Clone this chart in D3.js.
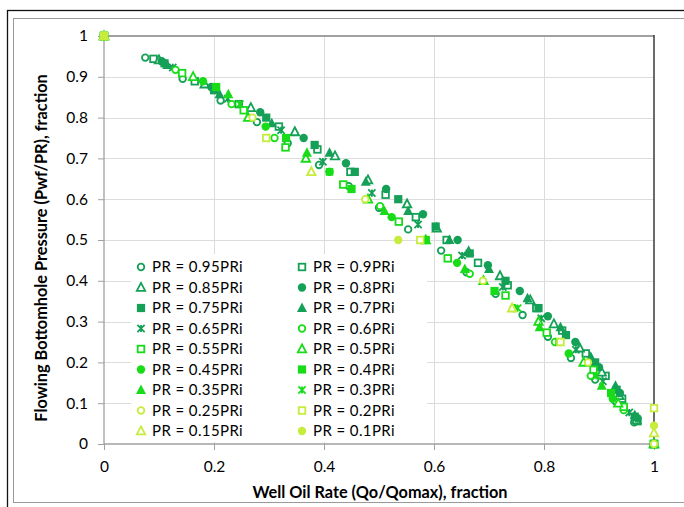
<!DOCTYPE html>
<html>
<head>
<meta charset="utf-8">
<script src="https://cdn.jsdelivr.net/npm/d3@7/dist/d3.min.js"></script>
<style>
  html, body { margin: 0; padding: 0; background: #fff; }
  svg { display: block; font-family: Lato, "Open Sans", sans-serif; }
</style>
</head>
<body>
<svg id="chart" width="684" height="507"></svg>
<script>
// Reservoir pressure levels (fraction of initial pressure PRi)
const prLevels = [0.95, 0.9, 0.85, 0.8, 0.75, 0.7, 0.65, 0.6, 0.55, 0.5,
                  0.45, 0.4, 0.35, 0.3, 0.25, 0.2, 0.15, 0.1];

const seriesNames = ["PR = 0.95PRi", "PR = 0.9PRi", "PR = 0.85PRi", "PR = 0.8PRi",
  "PR = 0.75PRi", "PR = 0.7PRi", "PR = 0.65PRi", "PR = 0.6PRi", "PR = 0.55PRi",
  "PR = 0.5PRi", "PR = 0.45PRi", "PR = 0.4PRi", "PR = 0.35PRi", "PR = 0.3PRi",
  "PR = 0.25PRi", "PR = 0.2PRi", "PR = 0.15PRi", "PR = 0.1PRi"];

// Flowing bottomhole pressure ratio Pwf/PR, one list per series
const pwfRatio = [
  [1, 0.947, 0.895, 0.842, 0.789, 0.737, 0.684, 0.632, 0.579, 0.526, 0.474, 0.421, 0.368, 0.316, 0.263, 0.211, 0.158, 0.105, 0.053, 0],
  [1, 0.944, 0.889, 0.833, 0.778, 0.722, 0.667, 0.611, 0.556, 0.5, 0.444, 0.389, 0.333, 0.278, 0.222, 0.167, 0.111, 0.056, 0],
  [1, 0.941, 0.882, 0.824, 0.765, 0.706, 0.647, 0.588, 0.529, 0.471, 0.412, 0.353, 0.294, 0.235, 0.176, 0.118, 0.059, 0],
  [1, 0.938, 0.875, 0.813, 0.75, 0.688, 0.625, 0.563, 0.5, 0.438, 0.375, 0.313, 0.25, 0.188, 0.125, 0.063, 0],
  [1, 0.933, 0.867, 0.8, 0.733, 0.667, 0.6, 0.533, 0.467, 0.4, 0.333, 0.267, 0.2, 0.133, 0.067, 0],
  [1, 0.929, 0.857, 0.786, 0.714, 0.643, 0.571, 0.5, 0.429, 0.357, 0.286, 0.214, 0.143, 0.071, 0],
  [1, 0.923, 0.846, 0.769, 0.692, 0.615, 0.538, 0.462, 0.385, 0.308, 0.231, 0.154, 0.077, 0],
  [1, 0.917, 0.833, 0.75, 0.667, 0.583, 0.5, 0.417, 0.333, 0.25, 0.167, 0.083, 0],
  [1, 0.909, 0.818, 0.727, 0.636, 0.545, 0.455, 0.364, 0.273, 0.182, 0.091, 0],
  [1, 0.9, 0.8, 0.7, 0.6, 0.5, 0.4, 0.3, 0.2, 0.1, 0],
  [1, 0.889, 0.778, 0.667, 0.556, 0.444, 0.333, 0.222, 0.111, 0],
  [1, 0.875, 0.75, 0.625, 0.5, 0.375, 0.25, 0.125, 0],
  [1, 0.857, 0.714, 0.571, 0.429, 0.286, 0.143, 0],
  [1, 0.833, 0.667, 0.5, 0.333, 0.167, 0],
  [1, 0.8, 0.6, 0.4, 0.2, 0],
  [1, 0.75, 0.5, 0.25, 0.088],
  [1, 0.667, 0.333, 0.027],
  [1, 0.5, 0.045]
];

// Well oil rate Qo/Qomax matching each pressure ratio above
const oilRate = [
  [0, 0.075, 0.143, 0.212, 0.278, 0.334, 0.391, 0.445, 0.500, 0.553, 0.613, 0.659, 0.712, 0.761, 0.807, 0.849, 0.893, 0.930, 0.964, 1],
  [0, 0.090, 0.165, 0.245, 0.318, 0.388, 0.448, 0.512, 0.567, 0.623, 0.680, 0.734, 0.786, 0.833, 0.876, 0.912, 0.942, 0.970, 1],
  [0, 0.100, 0.183, 0.267, 0.347, 0.420, 0.480, 0.551, 0.605, 0.663, 0.720, 0.775, 0.818, 0.865, 0.905, 0.937, 0.968, 1],
  [0, 0.105, 0.195, 0.284, 0.363, 0.440, 0.513, 0.580, 0.643, 0.698, 0.756, 0.807, 0.857, 0.900, 0.938, 0.970, 1],
  [0, 0.110, 0.200, 0.295, 0.383, 0.456, 0.535, 0.603, 0.665, 0.730, 0.790, 0.840, 0.893, 0.932, 0.965, 1],
  [0, 0.115, 0.210, 0.305, 0.410, 0.476, 0.553, 0.628, 0.700, 0.770, 0.830, 0.885, 0.930, 0.965, 1],
  [0, 0.125, 0.225, 0.322, 0.398, 0.487, 0.571, 0.651, 0.725, 0.795, 0.858, 0.907, 0.955, 1],
  [0, 0.130, 0.232, 0.310, 0.410, 0.502, 0.585, 0.665, 0.745, 0.820, 0.885, 0.945, 1],
  [0, 0.142, 0.254, 0.330, 0.435, 0.536, 0.625, 0.730, 0.805, 0.890, 0.945, 1],
  [0, 0.162, 0.262, 0.367, 0.480, 0.585, 0.690, 0.790, 0.872, 0.935, 1],
  [0, 0.180, 0.294, 0.410, 0.523, 0.642, 0.745, 0.845, 0.925, 1],
  [0, 0.204, 0.331, 0.450, 0.585, 0.710, 0.828, 0.922, 1],
  [0, 0.226, 0.369, 0.510, 0.656, 0.792, 0.905, 1],
  [0, 0.247, 0.410, 0.580, 0.752, 0.895, 1],
  [0, 0.270, 0.475, 0.689, 0.880, 1],
  [0, 0.295, 0.575, 0.830, 1],
  [0, 0.377, 0.742, 1],
  [0, 0.535, 1]
];

const xTickValues = [0, 0.2, 0.4, 0.6, 0.8, 1];
const xTickLabels = ["0", "0.2", "0.4", "0.6", "0.8", "1"];
const yTickValues = [0, 0.1, 0.2, 0.3, 0.4, 0.5, 0.6, 0.7, 0.8, 0.9, 1];
const yTickLabels = ["0", "0.1", "0.2", "0.3", "0.4", "0.5", "0.6", "0.7", "0.8", "0.9", "1"];

const xTitle = "Well Oil Rate (Qo/Qomax), fraction";
const yTitle = "Flowing Bottomhole Pressure (Pwf/PR), fraction";

// Marker styles cycle through seven shapes; colour steps by pressure group
const shapeCycle = ["circleOpen", "squareOpen", "triangleOpen", "circle", "square", "triangle", "star"];
const darkGreen = "#14a056", brightGreen = "#18dc18", lime = "#c6ec3c";
function seriesColor(i) { return i < 7 ? darkGreen : (i < 14 ? brightGreen : lime); }

const svg = d3.select("#chart");
const x = d3.scaleLinear().domain([0, 1]).range([104, 654]);
const y = d3.scaleLinear().domain([0, 1]).range([444, 36]);

// Outer frames
svg.append("rect").attr("x", 7.5).attr("y", 10.5).attr("width", 700).attr("height", 520)
  .attr("fill", "none").attr("stroke", "#111").attr("stroke-width", 1.3);
svg.append("rect").attr("x", 13.5).attr("y", 18.5).attr("width", 700).attr("height", 484)
  .attr("fill", "none").attr("stroke", "#9a9a9a").attr("stroke-width", 1);

// Gridlines
const grid = svg.append("g").attr("stroke", "#dcdcdc").attr("stroke-width", 1);
grid.selectAll("line.v").data(xTickValues.slice(1, -1)).join("line")
  .attr("x1", d => Math.round(x(d)) + 0.5).attr("x2", d => Math.round(x(d)) + 0.5)
  .attr("y1", y(1)).attr("y2", y(0));
grid.selectAll("line.h").data(yTickValues.slice(1, -1)).join("line")
  .attr("x1", x(0)).attr("x2", x(1))
  .attr("y1", d => Math.round(y(d)) + 0.5).attr("y2", d => Math.round(y(d)) + 0.5);

// Plot frame: top and right edges
svg.append("line").attr("x1", x(0)).attr("x2", x(1)).attr("y1", y(1)).attr("y2", y(1))
  .attr("stroke", "#a0a0a0").attr("stroke-width", 2);
svg.append("line").attr("x1", x(1)).attr("x2", x(1)).attr("y1", y(1) - 1).attr("y2", y(0))
  .attr("stroke", "#3a3a3a").attr("stroke-width", 1.5);

// Axes
const yAxis = d3.axisLeft(y).tickValues(yTickValues)
  .tickFormat((d, i) => yTickLabels[i]).tickSize(6).tickPadding(10);
const xAxis = d3.axisBottom(x).tickValues(xTickValues)
  .tickFormat((d, i) => xTickLabels[i]).tickSize(6).tickPadding(11);

function styleAxis(g) {
  g.select(".domain").attr("stroke", "#a0a0a0").attr("stroke-width", 1.3);
  g.selectAll(".tick line").attr("stroke", "#a0a0a0");
  g.selectAll(".tick text").attr("fill", "#000").style("font-size", "15.5px")
    .style("font-family", "Lato, sans-serif");
}
svg.append("g").attr("transform", `translate(${x(0)},0)`).call(yAxis).call(styleAxis)
  .select(".domain").attr("d", `M0,${y(1)}V${y(0)}`);
svg.append("g").attr("transform", `translate(0,${y(0)})`).call(xAxis).call(styleAxis)
  .select(".domain").attr("d", `M${x(0)},0H${x(1)}`);

// Axis titles
svg.append("text").attr("x", 380).attr("y", 498).attr("text-anchor", "middle")
  .style("font-size", "16.3px").style("font-weight", "bold").attr("fill", "#000").text(xTitle);
svg.append("text").attr("transform", "translate(47,248) rotate(-90)").attr("text-anchor", "middle")
  .style("font-size", "16.3px").style("font-weight", "bold").attr("fill", "#000").text(yTitle);

// Marker drawing
function drawMarker(g, shape, color, cx, cy) {
  const open = shape.endsWith("Open");
  const fill = open ? "#fff" : color;
  const sw = open ? 1.8 : 0;
  if (shape.startsWith("circle")) {
    g.append("circle").attr("cx", cx).attr("cy", cy).attr("r", open ? 3.3 : 4.2)
      .attr("fill", fill).attr("stroke", color).attr("stroke-width", sw);
  } else if (shape.startsWith("square")) {
    const s = open ? 6.6 : 8.2;
    g.append("rect").attr("x", cx - s / 2).attr("y", cy - s / 2).attr("width", s).attr("height", s)
      .attr("fill", fill).attr("stroke", color).attr("stroke-width", sw);
  } else if (shape.startsWith("triangle")) {
    const h = open ? 4.2 : 5;
    g.append("path")
      .attr("d", `M${cx},${cy - h * 1.1}L${cx + h},${cy + h * 0.8}L${cx - h},${cy + h * 0.8}Z`)
      .attr("fill", fill).attr("stroke", color).attr("stroke-width", sw).attr("stroke-linejoin", "miter");
  } else {
    const r = 3.6;
    g.append("path")
      .attr("d", `M${cx - r},${cy - r}L${cx + r},${cy + r}M${cx - r},${cy + r}L${cx + r},${cy - r}M${cx},${cy - r}V${cy + r}`)
      .attr("fill", "none").attr("stroke", color).attr("stroke-width", 1.8);
  }
}

// Legend (two columns, row-major)
const legend = svg.append("g");
legend.append("rect").attr("x", 131).attr("y", 254).attr("width", 296).attr("height", 188).attr("fill", "#fff");
seriesNames.forEach((name, i) => {
  const col = i % 2, row = Math.floor(i / 2);
  const mx = col === 0 ? 141 : 302;
  const my = 267 + row * 20.5;
  drawMarker(legend, shapeCycle[i % 7], seriesColor(i), mx, my);
  legend.append("text").attr("x", mx + 11).attr("y", my).attr("dy", "0.35em")
    .style("font-size", "15px").style("letter-spacing", "0.4px").attr("fill", "#000").text(name);
});

// Data points, one layer per series
prLevels.forEach((pr, i) => {
  const g = svg.append("g").attr("class", "series");
  pwfRatio[i].forEach((p, j) => {
    drawMarker(g, shapeCycle[i % 7], seriesColor(i), x(oilRate[i][j]), y(p));
  });
});
</script>
</body>
</html>
